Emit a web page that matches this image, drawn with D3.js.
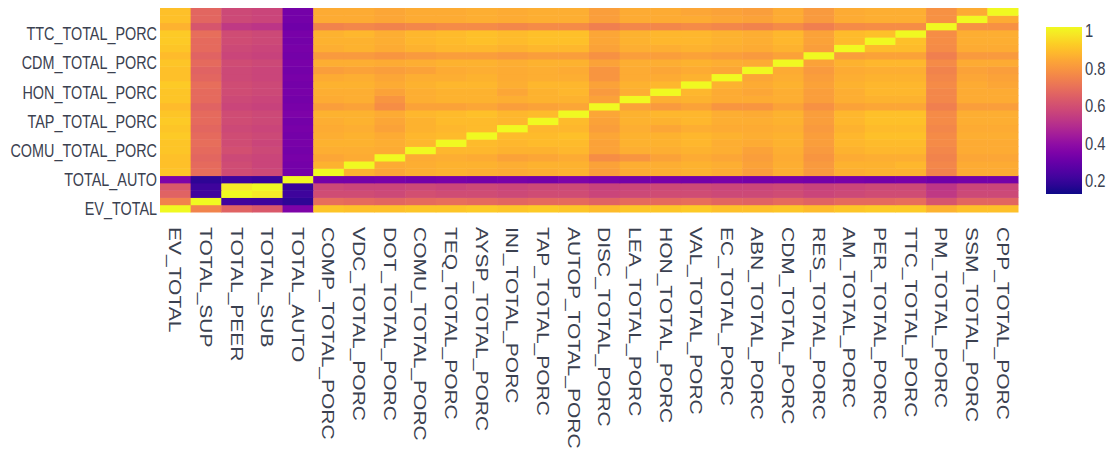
<!DOCTYPE html>
<html>
<head>
<meta charset="utf-8">
<script src="https://cdn.jsdelivr.net/npm/d3@7"></script>
<style>
  body { margin: 0; background: #fff; }
  text { font-family: "Liberation Sans", Arial, sans-serif; fill: #3b4150; }
</style>
</head>
<body>
<div id="chart"></div>
<script>
var variables = ["EV_TOTAL", "TOTAL_SUP", "TOTAL_PEER", "TOTAL_SUB", "TOTAL_AUTO",
    "COMP_TOTAL_PORC", "VDC_TOTAL_PORC", "DOT_TOTAL_PORC", "COMU_TOTAL_PORC", "TEQ_TOTAL_PORC",
    "AYSP_TOTAL_PORC", "INI_TOTAL_PORC", "TAP_TOTAL_PORC", "AUTOP_TOTAL_PORC", "DISC_TOTAL_PORC",
    "LEA_TOTAL_PORC", "HON_TOTAL_PORC", "VAL_TOTAL_PORC", "EC_TOTAL_PORC", "ABN_TOTAL_PORC",
    "CDM_TOTAL_PORC", "RES_TOTAL_PORC", "AM_TOTAL_PORC", "PER_TOTAL_PORC", "TTC_TOTAL_PORC",
    "PM_TOTAL_PORC", "SSM_TOTAL_PORC", "CPP_TOTAL_PORC"];

// y axis only shows every 4th variable
var yTickLabels = ["EV_TOTAL", "TOTAL_AUTO", "COMU_TOTAL_PORC", "TAP_TOTAL_PORC",
    "HON_TOTAL_PORC", "CDM_TOTAL_PORC", "TTC_TOTAL_PORC"];

var colorbarTicks = [0.2, 0.4, 0.6, 0.8, 1];
var zMin = 0.11, zMax = 1;

// lower triangle of the correlation matrix (row i holds columns 0..i)
var corrLower = [
    [1],
    [0.73, 1],
    [0.64, 0.20, 1],
    [0.61, 0.19, 0.97, 1],
    [0.33, 0.16, 0.19, 0.18, 1],
    [0.89, 0.67, 0.57, 0.56, 0.31, 1],
    [0.88, 0.66, 0.57, 0.55, 0.31, 0.85, 1],
    [0.88, 0.65, 0.56, 0.55, 0.32, 0.82, 0.83, 1],
    [0.89, 0.66, 0.58, 0.56, 0.31, 0.84, 0.84, 0.83, 1],
    [0.89, 0.67, 0.57, 0.55, 0.32, 0.85, 0.85, 0.84, 0.86, 1],
    [0.90, 0.66, 0.57, 0.56, 0.31, 0.84, 0.85, 0.83, 0.86, 0.87, 1],
    [0.89, 0.65, 0.56, 0.55, 0.32, 0.83, 0.84, 0.81, 0.85, 0.86, 0.87, 1],
    [0.90, 0.66, 0.57, 0.56, 0.31, 0.84, 0.85, 0.82, 0.85, 0.87, 0.87, 0.86, 1],
    [0.89, 0.66, 0.57, 0.56, 0.33, 0.85, 0.85, 0.83, 0.86, 0.87, 0.88, 0.86, 0.87, 1],
    [0.87, 0.64, 0.55, 0.54, 0.32, 0.80, 0.81, 0.76, 0.81, 0.81, 0.82, 0.80, 0.81, 0.82, 1],
    [0.89, 0.66, 0.56, 0.55, 0.31, 0.83, 0.84, 0.78, 0.84, 0.85, 0.85, 0.84, 0.85, 0.85, 0.81, 1],
    [0.89, 0.66, 0.57, 0.56, 0.32, 0.84, 0.84, 0.81, 0.84, 0.85, 0.85, 0.82, 0.85, 0.86, 0.79, 0.84, 1],
    [0.90, 0.67, 0.57, 0.56, 0.31, 0.85, 0.85, 0.83, 0.85, 0.86, 0.86, 0.84, 0.86, 0.86, 0.81, 0.85, 0.86, 1],
    [0.88, 0.65, 0.56, 0.55, 0.32, 0.83, 0.84, 0.82, 0.84, 0.84, 0.85, 0.83, 0.84, 0.84, 0.78, 0.83, 0.83, 0.85, 1],
    [0.88, 0.64, 0.56, 0.55, 0.31, 0.80, 0.81, 0.80, 0.81, 0.83, 0.84, 0.83, 0.84, 0.83, 0.78, 0.83, 0.82, 0.83, 0.82, 1],
    [0.89, 0.66, 0.57, 0.56, 0.32, 0.84, 0.84, 0.83, 0.84, 0.85, 0.85, 0.84, 0.85, 0.85, 0.81, 0.84, 0.84, 0.85, 0.84, 0.83, 1],
    [0.87, 0.64, 0.55, 0.54, 0.31, 0.79, 0.79, 0.78, 0.79, 0.80, 0.80, 0.79, 0.80, 0.80, 0.77, 0.80, 0.80, 0.81, 0.80, 0.79, 0.81, 1],
    [0.89, 0.66, 0.56, 0.55, 0.32, 0.84, 0.85, 0.83, 0.85, 0.86, 0.86, 0.85, 0.86, 0.86, 0.81, 0.84, 0.84, 0.85, 0.84, 0.83, 0.85, 0.80, 1],
    [0.90, 0.66, 0.57, 0.56, 0.31, 0.85, 0.85, 0.84, 0.86, 0.87, 0.88, 0.87, 0.88, 0.88, 0.82, 0.85, 0.86, 0.86, 0.85, 0.84, 0.86, 0.81, 0.87, 1],
    [0.90, 0.67, 0.57, 0.56, 0.32, 0.85, 0.86, 0.84, 0.86, 0.87, 0.88, 0.87, 0.88, 0.88, 0.82, 0.85, 0.86, 0.86, 0.85, 0.84, 0.86, 0.81, 0.87, 0.88, 1],
    [0.85, 0.60, 0.51, 0.50, 0.30, 0.73, 0.74, 0.73, 0.74, 0.75, 0.75, 0.74, 0.75, 0.75, 0.72, 0.74, 0.74, 0.75, 0.74, 0.73, 0.75, 0.72, 0.75, 0.76, 0.76, 1],
    [0.88, 0.65, 0.56, 0.55, 0.31, 0.83, 0.83, 0.82, 0.83, 0.83, 0.84, 0.83, 0.84, 0.84, 0.80, 0.83, 0.83, 0.83, 0.82, 0.81, 0.83, 0.79, 0.83, 0.84, 0.84, 0.77, 1],
    [0.88, 0.65, 0.56, 0.55, 0.31, 0.83, 0.83, 0.82, 0.83, 0.83, 0.84, 0.83, 0.84, 0.84, 0.80, 0.83, 0.83, 0.82, 0.81, 0.80, 0.83, 0.79, 0.83, 0.84, 0.84, 0.77, 0.83, 1]
];

var width = 1120, height = 457;
var plot = { left: 160, right: 1018, top: 8, bottom: 212 };

var svg = d3.select("#chart").append("svg")
    .attr("width", width)
    .attr("height", height)
    .style("background", "#fff");

var x = d3.scaleBand().domain(variables).range([plot.left, plot.right]).padding(0);
var y = d3.scaleBand().domain(variables).range([plot.bottom, plot.top]).padding(0);
var color = d3.scaleSequential(d3.interpolatePlasma).domain([zMin, zMax]);

var cells = [];
variables.forEach(function (rowName, i) {
    variables.forEach(function (colName, j) {
        var v = j <= i ? corrLower[i][j] : corrLower[j][i];
        cells.push({ row: rowName, col: colName, value: v });
    });
});

svg.append("g")
    .selectAll("rect")
    .data(cells).enter().append("rect")
    .attr("x", function (d) { return x(d.col); })
    .attr("y", function (d) { return y(d.row); })
    .attr("width", x.bandwidth() + 0.5)
    .attr("height", y.bandwidth() + 0.5)
    .attr("fill", function (d) { return color(d.value); });

// y axis
var yAxis = svg.append("g")
    .attr("transform", "translate(" + (plot.left - 3) + ",0)")
    .call(d3.axisLeft(y).tickValues(yTickLabels).tickSize(0).tickPadding(0));
yAxis.select(".domain").remove();
yAxis.selectAll("text")
    .attr("x", 0)
    .attr("dy", "0.38em")
    .style("font-size", "18px")
    .attr("transform", "scale(0.8,1)");

// x axis, labels turned to read downwards
var xAxis = svg.append("g")
    .attr("transform", "translate(0," + plot.bottom + ")")
    .call(d3.axisBottom(x).tickSize(0).tickPadding(0));
xAxis.select(".domain").remove();
xAxis.selectAll("text")
    .attr("x", 0)
    .attr("y", 0)
    .attr("dy", "0.36em")
    .attr("text-anchor", "start")
    .style("font-size", "21px")
    .attr("transform", "translate(0,15) rotate(90) scale(1,0.8)");

// colorbar
var bar = { x: 1046, w: 36, top: 27, bottom: 194 };
var cbScale = d3.scaleLinear().domain([zMin, zMax]).range([bar.bottom, bar.top]);

var grad = svg.append("defs").append("linearGradient")
    .attr("id", "cbGrad")
    .attr("x1", 0).attr("y1", 1).attr("x2", 0).attr("y2", 0);
grad.selectAll("stop")
    .data(d3.range(0, 1.0001, 0.05)).enter().append("stop")
    .attr("offset", function (t) { return t; })
    .attr("stop-color", function (t) { return d3.interpolatePlasma(t); });

svg.append("rect")
    .attr("x", bar.x)
    .attr("y", bar.top)
    .attr("width", bar.w)
    .attr("height", bar.bottom - bar.top)
    .attr("fill", "url(#cbGrad)");

var cbAxis = svg.append("g")
    .attr("transform", "translate(" + (bar.x + bar.w + 3) + ",3)")
    .call(d3.axisRight(cbScale).tickValues(colorbarTicks).tickSize(0).tickPadding(0)
        .tickFormat(function (d) { return d === 1 ? "1" : d3.format(".1f")(d); }));
cbAxis.select(".domain").remove();
cbAxis.selectAll("text")
    .attr("x", 0)
    .attr("dy", "0.36em")
    .style("font-size", "18px")
    .attr("transform", "scale(0.82,1)");
</script>
</body>
</html>
